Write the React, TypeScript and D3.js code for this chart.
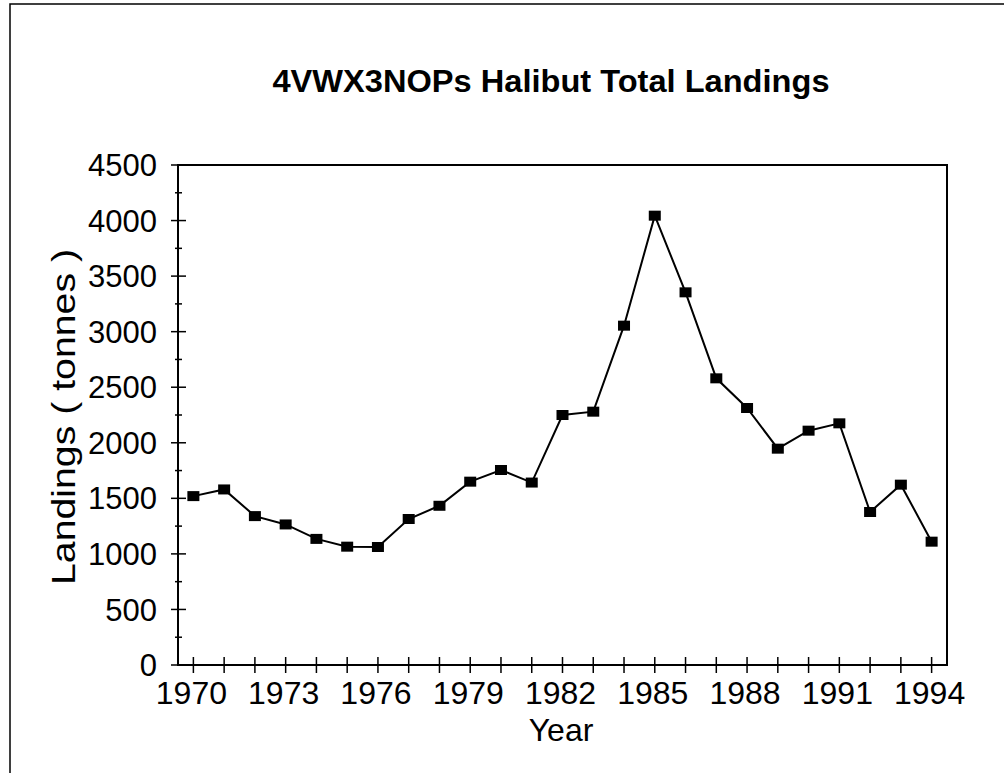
import React from "react";
import * as d3 from "d3";

const years: number[] = [1970,1971,1972,1973,1974,1975,1976,1977,1978,1979,1980,1981,1982,1983,1984,1985,1986,1987,1988,1989,1990,1991,1992,1993,1994];
const landings: number[] = [1520,1580,1340,1265,1135,1065,1062,1314,1433,1650,1755,1642,2250,2280,3054,4044,3354,2580,2313,1947,2109,2175,1377,1623,1110];
const yMajorTicks: number[] = [0,500,1000,1500,2000,2500,3000,3500,4000,4500];
const yMinorTicks: number[] = [250,750,1250,1750,2250,2750,3250,3750,4250];
const xTickLabels: number[] = [1970,1973,1976,1979,1982,1985,1988,1991,1994];

const W = 1004, H = 773;
const left = 178, right = 947, top = 165, bottom = 665;
const font = "'Liberation Sans', Arial, Helvetica, sans-serif";

export default function App() {
  const x = d3.scaleLinear().domain([1969.5, 1994.5]).range([left, right]);
  const y = d3.scaleLinear().domain([0, 4500]).range([bottom, top]);
  const line = d3.line<number>().x((_, i) => x(years[i])).y((d) => y(d));
  const mw = 12, mh = 10;
  return (
    <svg width={W} height={H} style={{ position: "absolute", left: 0, top: 0, background: "#fff" }}>
      <rect x={0} y={0} width={W} height={H} fill="#fff" />
      <rect x={10} y={4} width={1100} height={900} fill="none" stroke="#000" strokeWidth={1.5} />
      <text x={551} y={92} textAnchor="middle" fontFamily={font} fontWeight="bold" fontSize={31} textLength={557} lengthAdjust="spacingAndGlyphs">4VWX3NOPs Halibut Total Landings</text>
      <rect x={left} y={top} width={right - left} height={bottom - top} fill="none" stroke="#000" strokeWidth={2} />
      {yMajorTicks.map((t) => (
        <g key={"ym" + t}>
          <line x1={left - 7} x2={left + 8} y1={y(t)} y2={y(t)} stroke="#000" strokeWidth={1.5} />
          <text x={157} y={y(t)} dy="0.36em" textAnchor="end" fontFamily={font} fontSize={31}>{t}</text>
        </g>
      ))}
      {yMinorTicks.map((t) => (
        <line key={"yn" + t} x1={left - 3} x2={left + 4} y1={y(t)} y2={y(t)} stroke="#000" strokeWidth={1.5} />
      ))}
      {years.map((t) => (
        <line key={"xt" + t} x1={x(t)} x2={x(t)} y1={bottom - 8} y2={bottom + 8} stroke="#000" strokeWidth={1.5} />
      ))}
      {xTickLabels.map((t) => (
        <text key={"xl" + t} x={x(t) - 2} y={704} textAnchor="middle" fontFamily={font} fontSize={32}>{t}</text>
      ))}
      <text x={561} y={741} textAnchor="middle" fontFamily={font} fontSize={32}>Year</text>
      <text transform={`translate(75, ${(top + bottom) / 2 + 2}) rotate(-90)`} textAnchor="middle" fontFamily={font} fontSize={33} textLength={336} lengthAdjust="spacingAndGlyphs">Landings ( tonnes )</text>
      <path d={line(landings) || ""} fill="none" stroke="#000" strokeWidth={2} />
      {landings.map((v, i) => (
        <rect key={"m" + i} x={x(years[i]) - mw / 2} y={y(v) - mh / 2} width={mw} height={mh} fill="#000" />
      ))}
    </svg>
  );
}
